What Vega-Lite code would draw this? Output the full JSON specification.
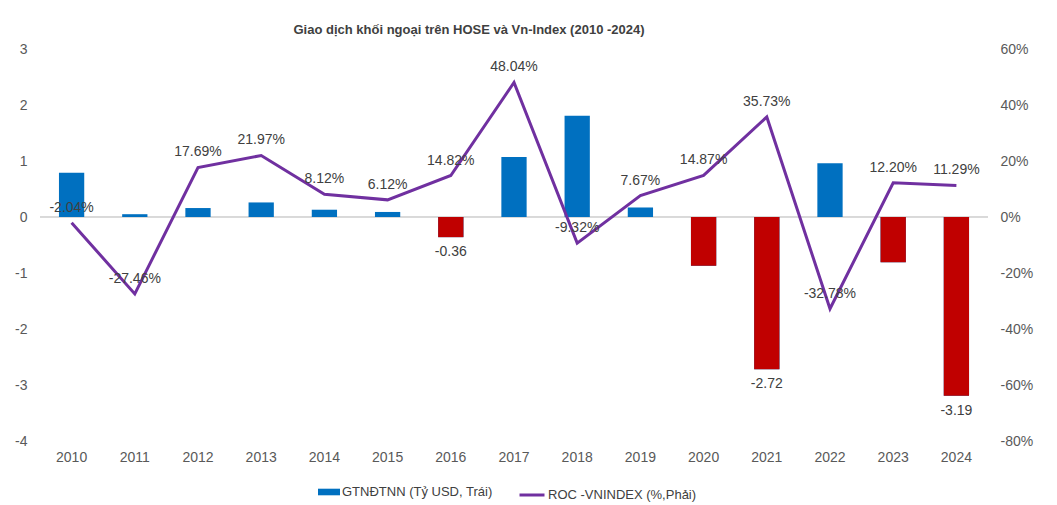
{
  "$schema": "https://vega.github.io/schema/vega-lite/v6.json",
  "autosize": "none",
  "width": 948,
  "height": 392,
  "padding": {"left": 40, "top": 49, "right": 69, "bottom": 64},
  "background": "white",
  "config": {
    "view": {"stroke": null},
    "font": "Liberation Sans",
    "locale": {"number": {"decimal": ".", "thousands": ",", "grouping": [3], "currency": ["$", ""], "minus": "-"}},
    "axis": {"labelFont": "Liberation Sans", "labelColor": "#595959", "labelFontSize": 14, "domain": false, "ticks": false, "grid": false}
  },
  "title": {
    "text": "Giao dịch khối ngoại trên HOSE và Vn-Index (2010 -2024)",
    "font": "Liberation Sans",
    "fontSize": 13,
    "fontWeight": "bold",
    "color": "#404040",
    "anchor": "middle",
    "dx": -45,
    "offset": 5
  },
  "data": {
    "values": [
      {"year": "2010", "net": 0.79, "roc": -0.0204},
      {"year": "2011", "net": 0.05, "roc": -0.2746},
      {"year": "2012", "net": 0.16, "roc": 0.1769},
      {"year": "2013", "net": 0.26, "roc": 0.2197},
      {"year": "2014", "net": 0.13, "roc": 0.0812},
      {"year": "2015", "net": 0.09, "roc": 0.0612},
      {"year": "2016", "net": -0.36, "roc": 0.1482},
      {"year": "2017", "net": 1.07, "roc": 0.4804},
      {"year": "2018", "net": 1.81, "roc": -0.0932},
      {"year": "2019", "net": 0.17, "roc": 0.0767},
      {"year": "2020", "net": -0.87, "roc": 0.1487},
      {"year": "2021", "net": -2.72, "roc": 0.3573},
      {"year": "2022", "net": 0.96, "roc": -0.3278},
      {"year": "2023", "net": -0.81, "roc": 0.122},
      {"year": "2024", "net": -3.19, "roc": 0.1129}
    ]
  },
  "encoding": {
    "x": {
      "field": "year",
      "type": "ordinal",
      "sort": null,
      "scale": {"paddingInner": 0.6, "paddingOuter": 0.3},
      "axis": {"title": null, "labelAngle": 0, "labelPadding": 9}
    }
  },
  "layer": [
    {
      "encoding": {
        "y": {
          "field": "net",
          "type": "quantitative",
          "scale": {"domain": [-4, 3], "nice": false, "zero": false},
          "axis": {"title": null, "orient": "left", "values": [-4, -3, -2, -1, 0, 1, 2, 3], "labelPadding": 13}
        }
      },
      "layer": [
        {
          "mark": {"type": "rule", "color": "#d9d9d9", "strokeWidth": 1},
          "encoding": {"y": {"datum": 0}, "x": null}
        },
        {
          "mark": {"type": "bar"},
          "encoding": {
            "fill": {
              "datum": "GTNĐTNN (Tỷ USD, Trái)",
              "scale": {"range": ["#0070C0"]},
              "legend": {
                "title": null,
                "orient": "none",
                "legendX": 278,
                "legendY": 432,
                "symbolType": "M-1,-0.3H1V0.3H-1Z",
                "symbolSize": 484,
                "symbolStrokeWidth": 0,
                "labelFont": "Liberation Sans",
                "labelFontSize": 13,
                "labelColor": "#404040",
                "labelOffset": 2
              }
            }
          }
        },
        {
          "transform": [{"filter": "datum.net < 0"}],
          "mark": {"type": "bar", "color": "#C00000"}
        },
        {
          "transform": [{"filter": "datum.year == '2016' || datum.year == '2021' || datum.year == '2024'"}],
          "mark": {"type": "text", "dy": 15, "baseline": "middle", "fontSize": 14, "color": "#404040", "font": "Liberation Sans"},
          "encoding": {"text": {"field": "net", "type": "quantitative", "format": ".2f"}}
        }
      ]
    },
    {
      "encoding": {
        "y": {
          "field": "roc",
          "type": "quantitative",
          "scale": {"domain": [-0.8, 0.6], "nice": false, "zero": false},
          "axis": {"title": null, "orient": "right", "format": ".0%", "values": [-0.8, -0.6, -0.4, -0.2, 0, 0.2, 0.4, 0.6], "labelPadding": 12}
        }
      },
      "layer": [
        {
          "mark": {"type": "line", "strokeWidth": 3},
          "encoding": {
            "stroke": {
              "datum": "ROC -VNINDEX (%,Phải)",
              "scale": {"range": ["#7030A0"]},
              "legend": {
                "title": null,
                "orient": "none",
                "legendX": 478,
                "legendY": 432,
                "symbolType": "stroke",
                "symbolSize": 625,
                "symbolStrokeWidth": 3,
                "labelFont": "Liberation Sans",
                "labelFontSize": 13,
                "labelColor": "#404040",
                "labelOffset": 2
              }
            }
          }
        },
        {
          "mark": {"type": "text", "dy": -15, "baseline": "middle", "fontSize": 14, "color": "#404040", "font": "Liberation Sans"},
          "encoding": {"text": {"field": "roc", "type": "quantitative", "format": ".2%"}}
        }
      ]
    }
  ],
  "resolve": {"scale": {"y": "independent"}}
}
